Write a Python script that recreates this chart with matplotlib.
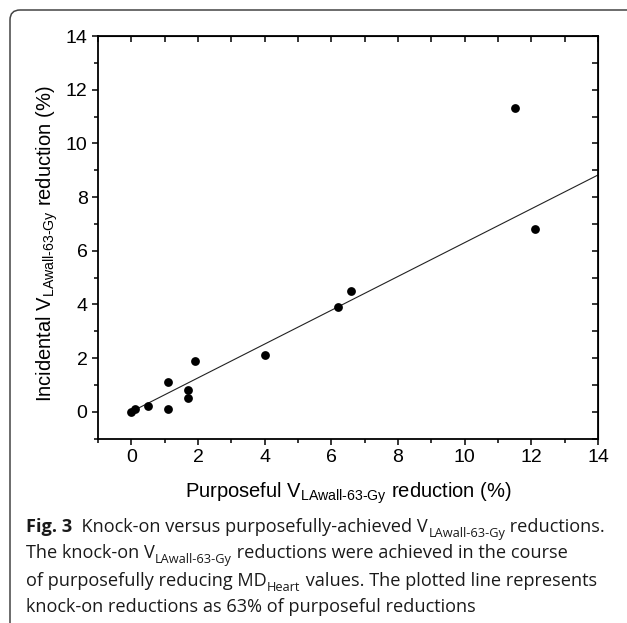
import numpy as np
import matplotlib
matplotlib.use("Agg")
import matplotlib.pyplot as plt
from matplotlib.patches import FancyBboxPatch
from matplotlib.ticker import MultipleLocator

plt.rcParams['font.family'] = ['Liberation Sans', 'DejaVu Sans']
plt.rcParams['mathtext.fontset'] = 'custom'
plt.rcParams['mathtext.rm'] = 'Liberation Sans'
plt.rcParams['mathtext.it'] = 'Liberation Sans:italic'
plt.rcParams['mathtext.bf'] = 'Liberation Sans:bold'

# data
purposeful = [0.0, 0.1, 0.5, 1.1, 1.1, 1.7, 1.7, 1.9, 4.0, 6.2, 6.6, 11.5, 12.1]
incidental = [0.0, 0.1, 0.2, 1.1, 0.1, 0.8, 0.5, 1.9, 2.1, 3.9, 4.5, 11.3, 6.8]
slope = 0.63
line_x = [0, 14]

fig = plt.figure(figsize=(6.27, 6.23), dpi=100)
ax = fig.add_axes([0.1563, 0.2961, 0.7974, 0.6461])

ax.scatter(purposeful, incidental, s=40, color='black', zorder=3, linewidths=0)
lx = np.array(line_x)
ax.plot(lx, slope * lx, color='#222222', lw=0.8, zorder=2)

ax.set_xlim(-1, 14)
ax.set_ylim(-1, 14)
ax.xaxis.set_major_locator(MultipleLocator(2))
ax.xaxis.set_minor_locator(MultipleLocator(1))
ax.yaxis.set_major_locator(MultipleLocator(2))
ax.yaxis.set_minor_locator(MultipleLocator(1))
for s in ax.spines.values():
    s.set_linewidth(1.3)
ax.tick_params(which='both', direction='out', top=False, right=False, labelsize=14, width=1.1)
ax.tick_params(which='major', length=4.5, pad=3)
ax.tick_params(which='minor', length=3.2)
# inward ticks on top / right
sec_x = ax.secondary_xaxis('top')
sec_x.xaxis.set_major_locator(MultipleLocator(1))
sec_x.tick_params(direction='in', length=4, width=1.1, labeltop=False)
sec_y = ax.secondary_yaxis('right')
sec_y.yaxis.set_major_locator(MultipleLocator(1))
sec_y.tick_params(direction='in', length=4, width=1.1, labelright=False)

ax.set_xlabel(r'Purposeful V$_{\mathrm{LAwall\text{-}63\text{-}Gy}}$ reduction (%)', fontsize=14.5)
ax.set_ylabel(r'Incidental V$_{\mathrm{LAwall\text{-}63\text{-}Gy}}$ reduction (%)', fontsize=14.5)
ax.xaxis.set_label_coords(0.5, -0.105)
ax.yaxis.set_label_coords(-0.077, 0.485)

# frame around figure panel
W, H = 627, 623
frame = FancyBboxPatch((10 / W, -20 / H), 650 / W, (623 - 10 + 20) / H,
                       boxstyle='round,pad=0,rounding_size=0.016',
                       transform=fig.transFigure, fill=False,
                       edgecolor='#444444', lw=1.1, clip_on=False)
fig.patches.append(frame)

# caption
cap_font = ['Open Sans', 'DejaVu Sans']
cap_size = 13.1
sub_size = 9.2
cap_color = '#1a1a1a'


def caption_line(y_px, parts):
    prev_main = None
    prev = None
    for txt, kind in parts:
        weight = 'bold' if kind == 'bold' else 'normal'
        if prev is None:
            t = fig.text(26 / W, 1 - y_px / H, txt, fontsize=cap_size, family=cap_font,
                         weight=weight, color=cap_color, va='center', ha='left')
            prev_main = t
        elif kind == 'sub':
            t = ax.annotate(txt, xy=(1, 0), xycoords=prev, xytext=(0.3, -2.8),
                            textcoords='offset points', fontsize=sub_size, family=cap_font,
                            color=cap_color, va='bottom', ha='left', annotation_clip=False)
        else:
            t = ax.annotate(txt, xy=(1, 0), xycoords=(prev, prev_main), fontsize=cap_size,
                            family=cap_font, weight=weight, color=cap_color,
                            va='bottom', ha='left', annotation_clip=False)
            prev_main = t
        prev = t


caption_line(527, [('Fig. 3', 'bold'), ('  Knock-on versus purposefully-achieved V', 'n'),
                   ('LAwall-63-Gy', 'sub'), (' reductions.', 'n')])
caption_line(553, [('The knock-on V', 'n'), ('LAwall-63-Gy', 'sub'),
                   (' reductions were achieved in the course', 'n')])
caption_line(581, [('of purposefully reducing MD', 'n'), ('Heart', 'sub'),
                   (' values. The plotted line represents', 'n')])
caption_line(607, [('knock-on reductions as 63% of purposeful reductions', 'n')])

fig.savefig('out.png', dpi=100)
